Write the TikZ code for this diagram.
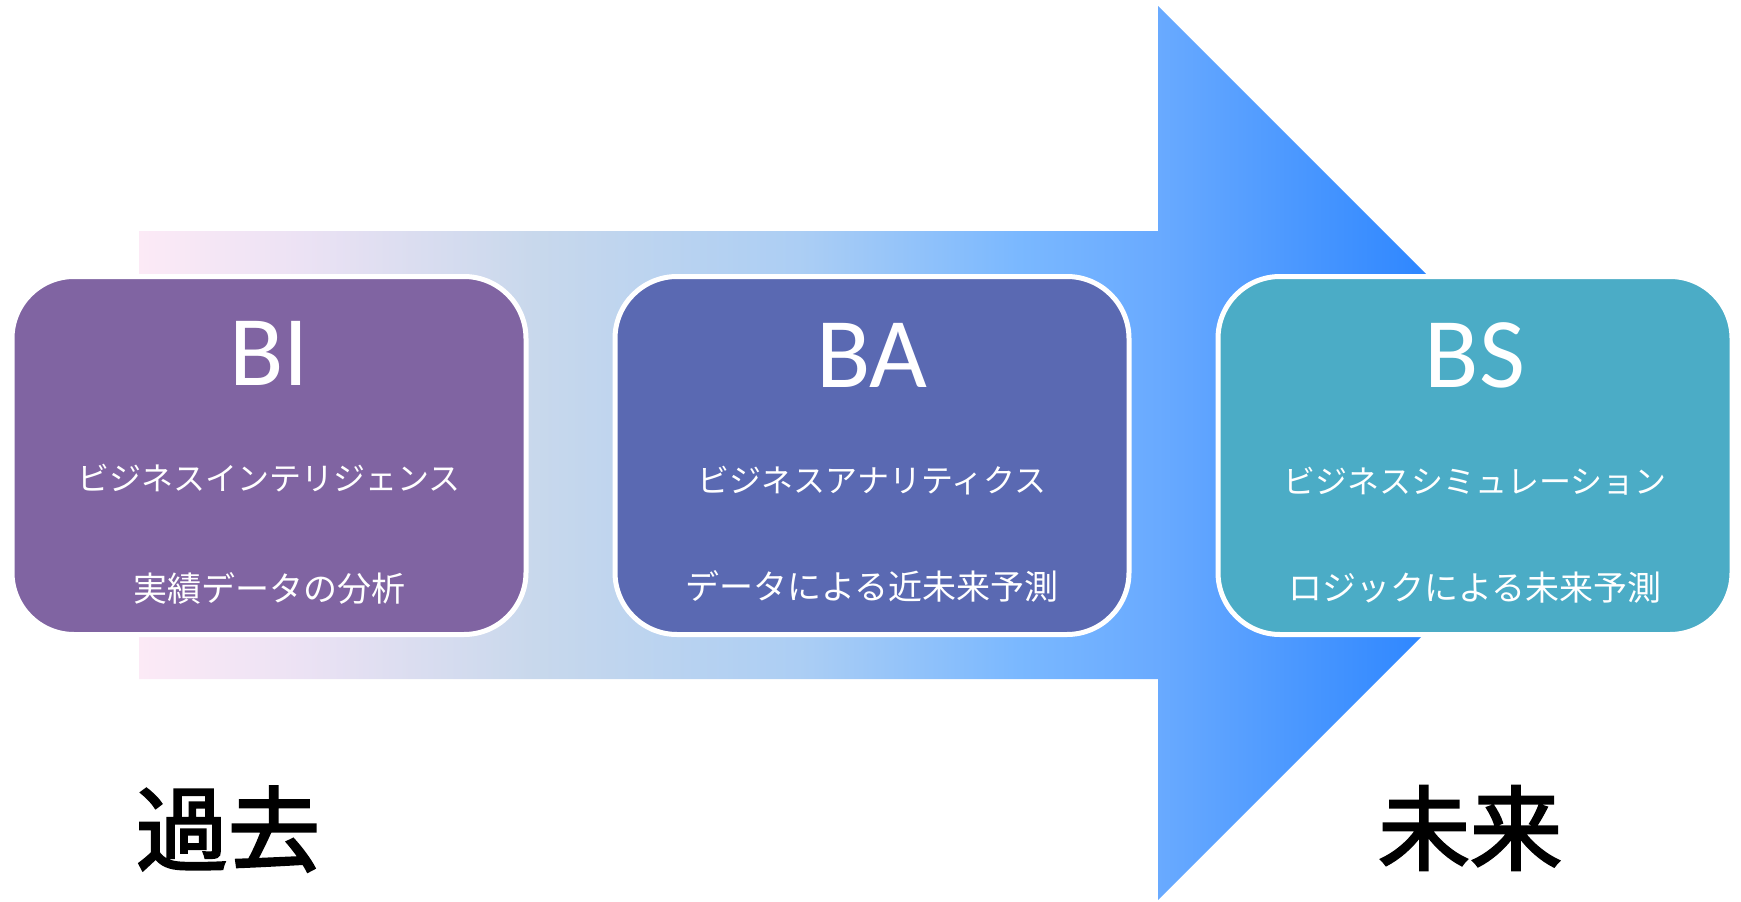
\documentclass[tikz,border=0pt]{standalone}
\usepackage{fontspec}
\setmainfont{Carlito}
\newfontfamily\jpfont{Noto Sans CJK JP}
\newfontfamily\jperafont{Noto Sans CJK JP}[FakeBold=2.5]
\definecolor{colorBI}{RGB}{128,100,162}
\definecolor{colorBA}{RGB}{90,105,178}
\definecolor{colorBS}{RGB}{75,172,198}
\definecolor{shadeA}{RGB}{252,234,246}
\definecolor{shadeB}{RGB}{236,226,244}
\definecolor{shadeC}{RGB}{200,216,236}
\definecolor{shadeD}{RGB}{172,206,244}
\definecolor{shadeE}{RGB}{122,184,255}
\definecolor{shadeF}{RGB}{105,170,255}
\definecolor{shadeG}{RGB}{47,135,255}
\definecolor{shadeH}{RGB}{30,122,255}
\usetikzlibrary{positioning}
\pgfdeclarehorizontalshading{timeshade}{100bp}{color(0bp)=(shadeA); color(25bp)=(shadeA); color(30.5bp)=(shadeB); color(38.5bp)=(shadeC); color(47.5bp)=(shadeD); color(55bp)=(shadeE); color(59.75bp)=(shadeF); color(68.8bp)=(shadeG); color(75bp)=(shadeH); color(100bp)=(shadeH)}
\tikzset{
  stage/.style={draw=white, line width=5pt, rounded corners=62pt, minimum width=514pt, minimum height=358pt, inner sep=0pt},
  stagetitle/.style={text=white, inner sep=0pt, font=\fontsize{100}{100}\selectfont},
  stagename/.style={text=white, inner sep=0pt, font=\jpfont\fontsize{32}{32}\selectfont},
  stagegoal/.style={text=white, inner sep=0pt, font=\jpfont\fontsize{34}{34}\selectfont},
  era/.style={inner sep=0pt, font=\jperafont\fontsize{92}{92}\selectfont}
}

\begin{document}
\begin{tikzpicture}[x=1pt, y=-1pt]
\useasboundingbox (0,0) rectangle (1741,902);
\shade[shading=timeshade] (139,231) -- (1158,231) -- (1158,6) -- (1605,453) -- (1158,900) -- (1158,679) -- (139,679) -- cycle;
\node[stage, fill=colorBI] (bi) at (269,455.5) {};
\node[stage, fill=colorBA, right=84pt of bi] (ba) {};
\node[stage, fill=colorBS, right=84pt of ba] (bs) {};
\node[stagetitle] (bi-t) at ([yshift=-79pt]bi.north) {BI};
\node[stagename] (bi-n) at ([yshift=-204pt]bi.north) {ビジネスインテリジェンス};
\node[stagegoal] (bi-g) at ([yshift=-314pt]bi.north) {実績データの分析};
\node[stagetitle] (ba-t) at ([yshift=-81pt]ba.north) {BA};
\node[stagename] (ba-n) at ([yshift=-207pt]ba.north) {ビジネスアナリティクス};
\node[stagegoal] (ba-g) at ([yshift=-312pt]ba.north) {データによる近未来予測};
\node[stagetitle] (bs-t) at ([yshift=-81pt]bs.north) {BS};
\node[stagename] (bs-n) at ([yshift=-207pt]bs.north) {ビジネスシミュレーション};
\node[stagegoal] (bs-g) at ([yshift=-314pt]bs.north) {ロジックによる未来予測};
\node[era] (past) at (228,829) {過去};
\node[era] (future) at (1470,828) {未来};
\end{tikzpicture}
\end{document}
